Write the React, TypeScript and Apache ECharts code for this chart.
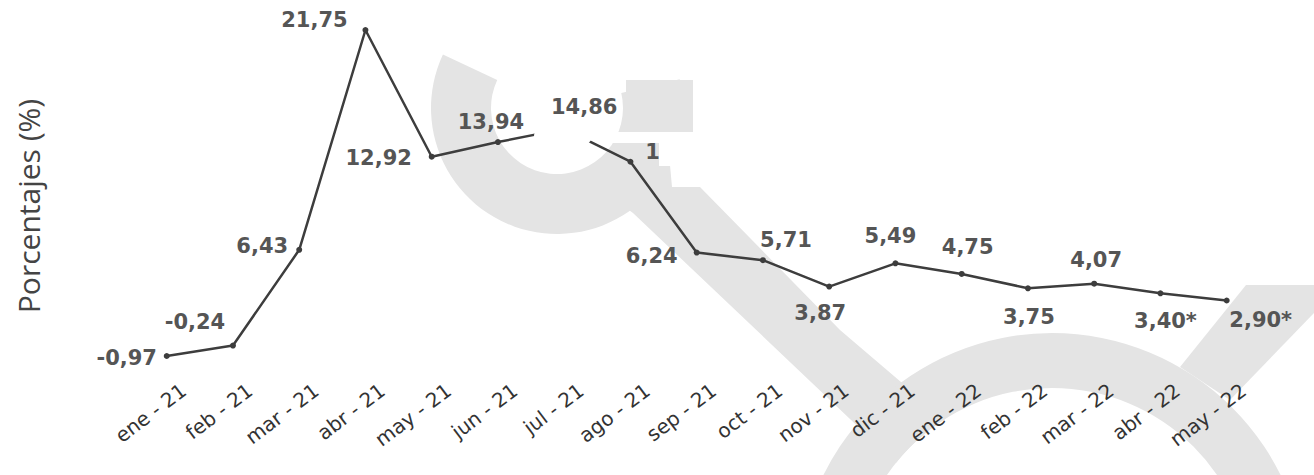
import React, { useEffect, useRef } from "react";
import * as echarts from "echarts";

const categories = [
  "ene - 21", "feb - 21", "mar - 21", "abr - 21", "may - 21", "jun - 21",
  "jul - 21", "ago - 21", "sep - 21", "oct - 21", "nov - 21", "dic - 21",
  "ene - 22", "feb - 22", "mar - 22", "abr - 22", "may - 22",
];
const values = [
  -0.97, -0.24, 6.43, 21.75, 12.92, 13.94, 14.86, 12.57, 6.24, 5.71, 3.87,
  5.49, 4.75, 3.75, 4.07, 3.4, 2.9,
];
const provisional = [
  false, false, false, false, false, false, false, false, false, false, false,
  false, false, false, false, true, true,
];
const yAxisTitle = "Porcentajes (%)";

// label placement (style only)
const labelOffsets: number[][] = [
  [-40, 2], [-38, -24], [-37, -4], [-51, -10], [-53, 1], [-7, -20], [20, -22],
  [48, -10], [-45, 3], [23, -20], [-9, 26], [-5, -27], [6, -27], [1, 29],
  [2, -24], [5, 28], [34, 20],
];

const GRAY = "#e4e4e4";
const LABEL_SHIFT = 17;

export default function App() {
  const ref = useRef<HTMLDivElement>(null);
  useEffect(() => {
    if (!ref.current) return;
    const chart = echarts.init(ref.current, null, { renderer: "svg" });
    chart.setOption({
      animation: false,
      backgroundColor: "#ffffff",
      grid: [
        { left: 133.6, right: 54.2, top: 19.25, bottom: 99.9 },
        { left: 133.6 + LABEL_SHIFT, right: 54.2 - LABEL_SHIFT, top: 19.25, bottom: 99.9 },
      ],
      xAxis: [
        {
          gridIndex: 0,
          type: "category",
          data: categories,
          boundaryGap: true,
          axisLine: { show: false, onZero: false },
          axisTick: { show: false },
          axisLabel: { show: false },
        },
        {
          gridIndex: 1,
          type: "category",
          z: 20,
          data: categories,
          boundaryGap: true,
          axisLine: { show: false, onZero: false },
          axisTick: { show: false },
          axisLabel: {
            interval: 0,
            rotate: 37,
            margin: 13,
            fontSize: 20,
            color: "#333",
            fontFamily: "DejaVu Sans",
          },
        },
      ],
      yAxis: [
        { gridIndex: 0, type: "value", min: -2.3, max: 22.5, show: false },
        { gridIndex: 1, type: "value", min: -2.3, max: 22.5, show: false },
      ],
      graphic: [
        {
          type: "sector",
          z: 0,
          shape: { cx: 557, cy: 108, r0: 66, r: 126, startAngle: -0.23, endAngle: 3.58, clockwise: true },
          style: { fill: GRAY },
        },
        {
          type: "rect",
          z: 0,
          shape: { x: 626, y: 80, width: 67, height: 52 },
          style: { fill: GRAY },
        },
        {
          type: "polygon",
          z: 0,
          shape: {
            points: [
              [627, 143], [668, 143], [672, 187], [700, 187], [840, 330],
              [1010, 475], [909, 475], [633, 213], [615, 200],
            ],
          },
          style: { fill: GRAY },
        },
        {
          type: "rect",
          z: 1,
          shape: { x: 600, y: 132, width: 100, height: 11 },
          style: { fill: "#ffffff" },
        },
        {
          type: "circle",
          z: 1,
          shape: { cx: 1052, cy: 588, r: 200 },
          style: { fill: "#ffffff" },
        },
        {
          type: "sector",
          z: 2,
          shape: { cx: 1052, cy: 588, r0: 200, r: 255, startAngle: Math.PI, endAngle: Math.PI * 2, clockwise: true },
          style: { fill: GRAY },
        },
        {
          type: "polygon",
          z: 2,
          shape: { points: [[1246, 285], [1314, 285], [1314, 313], [1230, 400], [1180, 367]] },
          style: { fill: GRAY },
        },
        {
          type: "ellipse",
          z: 100,
          shape: { cx: 563, cy: 136, rx: 29, ry: 15 },
          style: { fill: "#ffffff" },
        },
        {
          type: "rect",
          z: 100,
          shape: { x: 659, y: 138, width: 62, height: 28 },
          style: { fill: "#ffffff" },
        },
        {
          type: "text",
          z: 10,
          x: 28,
          y: 206,
          rotation: Math.PI / 2,
          style: {
            text: yAxisTitle,
            fontSize: 30,
            fill: "#444",
            fontFamily: "Open Sans",
            align: "center",
            verticalAlign: "middle",
          },
        },
      ],
      series: [
        {
          type: "line",
          xAxisIndex: 0,
          yAxisIndex: 0,
          z: 5,
          data: values.map((v, i) => ({
            value: v,
            label: { offset: labelOffsets[i] },
          })),
          symbol: "circle",
          symbolSize: 6,
          itemStyle: { color: "#3d3d3d" },
          lineStyle: { color: "#3d3d3d", width: 2.5 },
          label: {
            show: true,
            position: "inside",
            fontSize: 21,
            fontWeight: "bold",
            color: "#555",
            fontFamily: "DejaVu Sans",
            formatter: (p: any) =>
              values[p.dataIndex].toFixed(2).replace(".", ",") +
              (provisional[p.dataIndex] ? "*" : ""),
          },
        },
      ],
    });
    return () => chart.dispose();
  }, []);
  return (
    <div
      ref={ref}
      style={{ position: "fixed", left: 0, top: 0, width: 1314, height: 475 }}
    />
  );
}
